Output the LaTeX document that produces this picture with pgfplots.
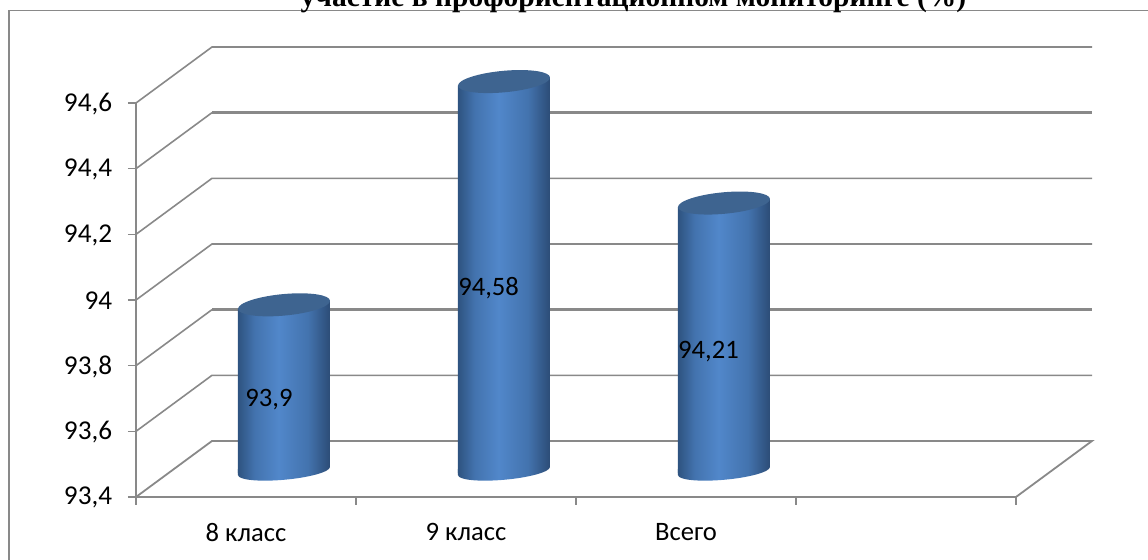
\documentclass[border=0pt]{standalone}
\usepackage{fontspec}
\setmainfont{Carlito}
\newfontfamily\titlefont{Liberation Serif}
\usepackage{pgfplots}
\pgfplotsset{compat=1.18}

\definecolor{gridc}{HTML}{898989}
\definecolor{topc}{HTML}{3E6490}
\definecolor{cyla}{HTML}{2E5380}
\definecolor{cylb}{HTML}{4373AE}
\definecolor{cylc}{HTML}{5187CA}
\definecolor{cyld}{HTML}{2C4C76}
\pgfdeclarehorizontalshading{cyl}{100bp}{
  color(0bp)=(cyla);
  color(25bp)=(cyla);
  color(34bp)=(cylb);
  color(47bp)=(cylc);
  color(63bp)=(cylb);
  color(75bp)=(cyld);
  color(100bp)=(cyld)}

% cylinder ends, sheared by the same 0.0875 as the bars so the corners meet
\pgfdeclareplotmark{cylbase}{%
  \pgftransformcm{1}{0.0875}{0}{1}{\pgfpointorigin}%
  \pgfpathrectangle{\pgfpoint{-23pt}{0pt}}{\pgfpoint{46pt}{3pt}}%
  \pgfshadepath{cyl}{0}%
  \pgfusepath{discard}%
  \pgfpathellipse{\pgfpointorigin}{\pgfpoint{23pt}{0pt}}{\pgfpoint{0pt}{4.4pt}}%
  \pgfshadepath{cyl}{0}%
  \pgfusepath{discard}}
\pgfdeclareplotmark{cyltop}{%
  \pgfsetfillcolor{topc}%
  \pgftransformcm{1}{0.0875}{0}{1}{\pgfpointorigin}%
  \pgfpathellipse{\pgfpointorigin}{\pgfpoint{23pt}{0pt}}{\pgfpoint{0pt}{5.4pt}}%
  \pgfusepath{fill}}

\begin{document}
\begin{tikzpicture}
\useasboundingbox (-68pt,-31.5pt) rectangle (506pt,248.5pt);
\begin{axis}[
    at={(0,0)}, anchor=origin,
    width=440pt, height=197pt,
    scale only axis,
    clip=false,
    axis lines=left,
    axis line style={-, draw=gridc, line width=0.9pt},
    xmin=0, xmax=4,
    ymin=93.4, ymax=94.6,
    ytick={93.4,93.6,93.8,94,94.2,94.4,94.6},
    xtick={0.5,1.5,2.5,3.5},
    xticklabels={8 класс,9 класс,Всего,{}},
    minor xtick={0,1,2,3,4},
    major x tick style={draw=none},
    minor x tick style={draw=gridc, line width=0.6pt},
    major y tick style={draw=gridc, line width=0.6pt},
    tick align=outside,
    major tick length=4pt,
    minor tick length=4pt,
    tick label style={black},
    xticklabel style={font=\fontsize{13.3}{16}\selectfont, yshift=-5.6pt},
    yticklabel style={font=\fontsize{13.6}{16}\selectfont, xshift=-4.4pt, yshift=-0.4pt},
    /pgf/number format/.cd, use comma, fixed, precision=1, assume math mode=true,
]
% back wall and floor
\addplot[gridc, line width=0.8pt] coordinates {(0,94.6) (0.3455,94.7706) (4.3455,94.7706)};
\addplot[gridc, line width=0.8pt] coordinates {(0,94.4) (0.3455,94.5706)};
\addplot[gridc, line width=1.3pt] coordinates {(0.3455,94.5706) (4.3455,94.5706)};
\addplot[gridc, line width=0.8pt] coordinates {(0,94.2) (0.3455,94.3706) (4.3455,94.3706)};
\addplot[gridc, line width=0.8pt] coordinates {(0,94.0) (0.3455,94.1706) (4.3455,94.1706)};
\addplot[gridc, line width=0.8pt] coordinates {(0,93.8) (0.3455,93.9706)};
\addplot[gridc, line width=1.3pt] coordinates {(0.3455,93.9706) (4.3455,93.9706)};
\addplot[gridc, line width=0.8pt] coordinates {(0,93.6) (0.3455,93.7706) (4.3455,93.7706)};
\addplot[gridc, line width=0.9pt] coordinates {(0,93.4) (0.3455,93.5706) (4.3455,93.5706) (4,93.4)};
% cylinders: each bar is sheared, yshift takes back what the shear adds at its x
\addplot[only marks, mark=cylbase, xshift=19pt, yshift=13pt] coordinates {(0.5,93.4) (1.5,93.4) (2.5,93.4)};
\addplot[ybar, bar width=46pt, bar shift=0pt, draw=none, shading=cyl, xshift=19pt, yshift=9.19pt, yslant=0.0875] coordinates {(0.5,93.9)};
\addplot[ybar, bar width=46pt, bar shift=0pt, draw=none, shading=cyl, xshift=19pt, yshift=-0.44pt, yslant=0.0875] coordinates {(1.5,94.58)};
\addplot[ybar, bar width=46pt, bar shift=0pt, draw=none, shading=cyl, xshift=19pt, yshift=-10.06pt, yslant=0.0875] coordinates {(2.5,94.21)};
\addplot[only marks, mark=cyltop, xshift=19pt, yshift=14pt] coordinates {(0.5,93.9) (1.5,94.58) (2.5,94.21)};
% value labels sit left of the bar centres
\addplot[draw=none, mark=none, point meta=explicit symbolic, nodes near coords,
    every node near coord/.append style={anchor=center, inner sep=0pt, font=\fontsize{13.3}{16}\selectfont, black}]
  table[x=x, y=y, meta=lab] {
x y lab
0.6045 93.698 93,9
1.603 94.0366 94,58
2.602 93.843 94,21
};
\end{axis}
% chart frame, runs off the page on the right and bottom
\draw[gridc, line width=0.7pt] (-63.5pt,-31.5pt) -- (-63.5pt,243.25pt) -- (506pt,243.25pt);
\node[anchor=base, inner sep=0pt, font=\titlefont\bfseries\fontsize{14.75}{18}\selectfont] at (248.75pt,245pt)
  {участие в профориентационном мониторинге (\%)};
\end{tikzpicture}
\end{document}
